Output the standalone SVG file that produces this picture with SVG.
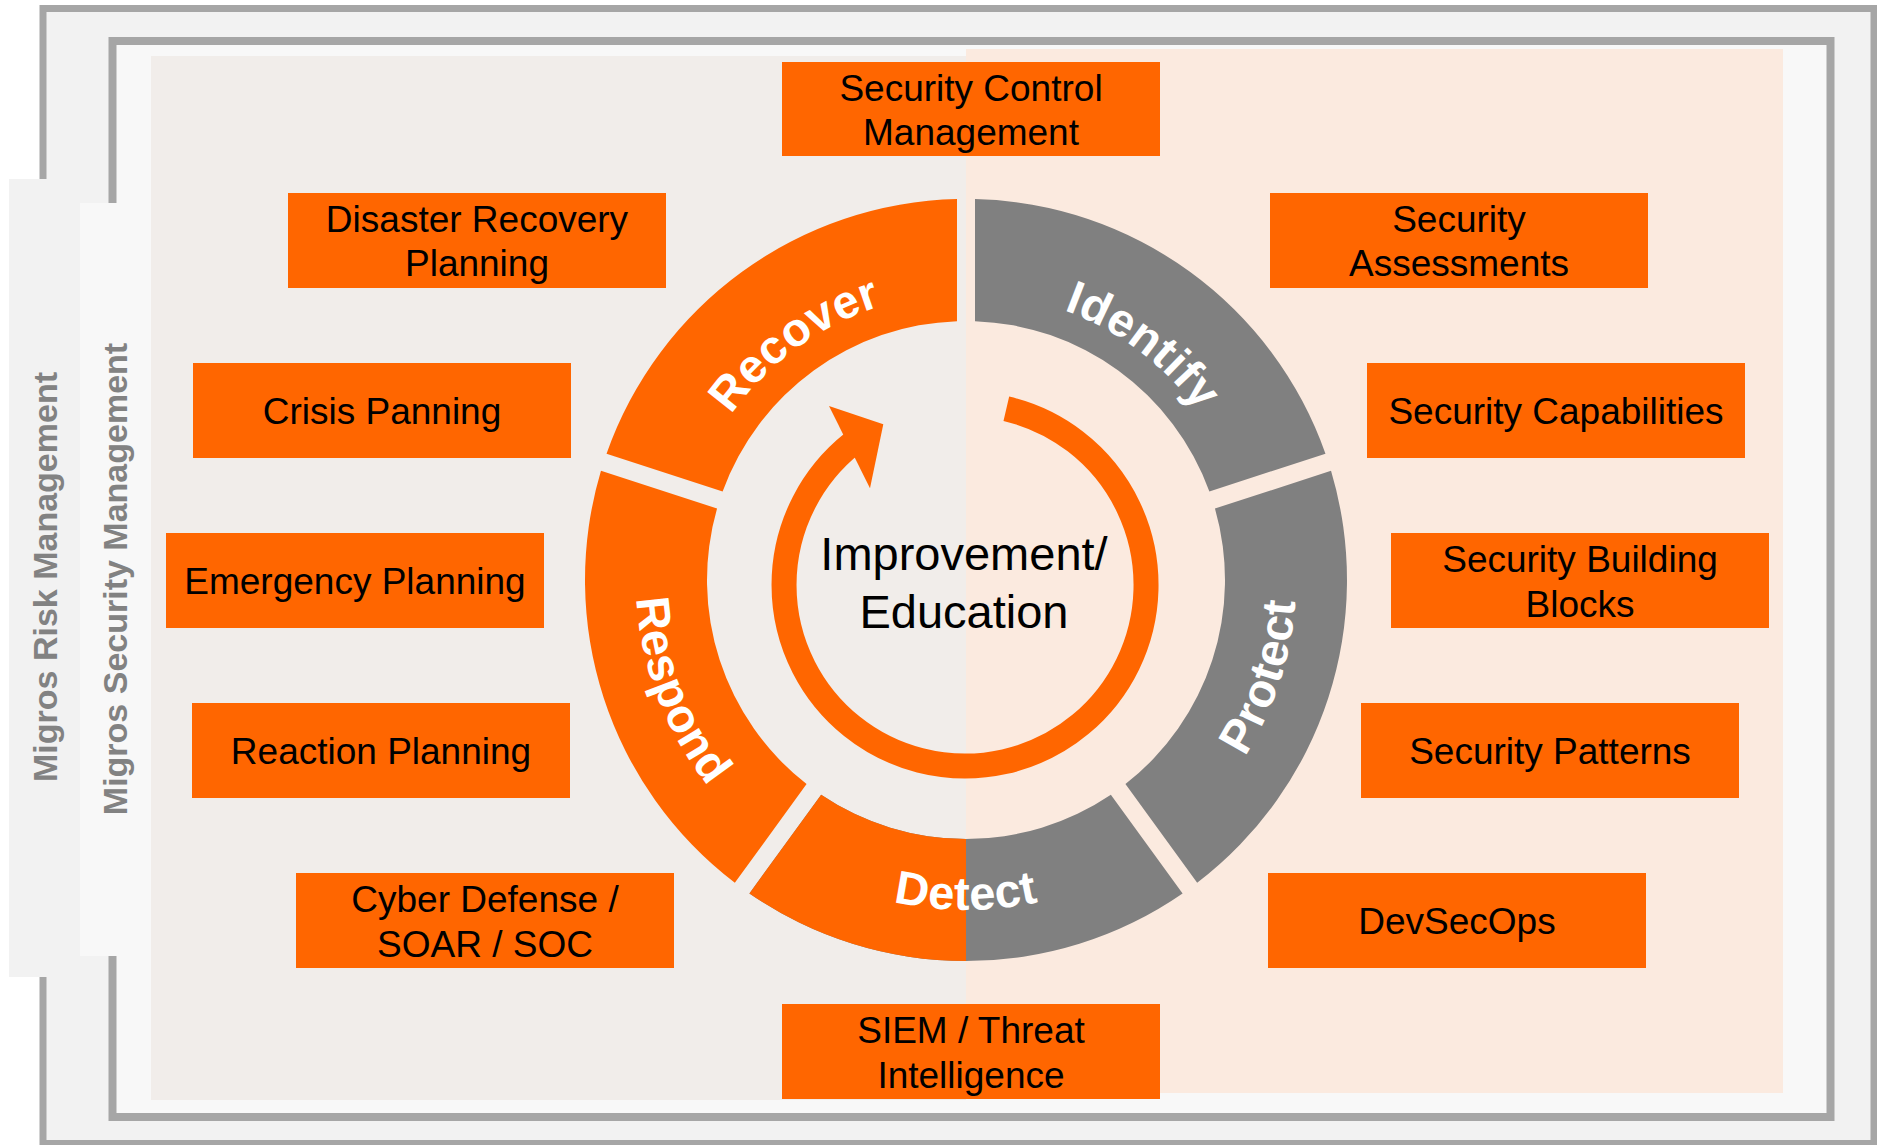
<svg xmlns="http://www.w3.org/2000/svg" width="1877" height="1145" viewBox="0 0 1877 1145">
<style>
.box{fill:#ff6600}
.bt{font-family:"Liberation Sans",Arial,sans-serif;font-size:37px;fill:#000;text-anchor:middle}
.seglbl{font-family:"Liberation Sans",Arial,sans-serif;font-size:47px;font-weight:bold;fill:#fff;letter-spacing:0.5px}
.side{font-family:"Liberation Sans",Arial,sans-serif;font-size:34px;font-weight:bold;fill:#828282;text-anchor:middle}
.center{font-family:"Liberation Sans",Arial,sans-serif;font-size:47px;fill:#000;text-anchor:middle}
</style>
<defs>
<path id="seg" d="M 9 -380.89 A 381 381 0 0 1 359.47 -126.26 L 243.39 -88.55 A 259 259 0 0 0 9 -258.84 Z"/>
<clipPath id="leftHalf"><rect x="0" y="0" width="966" height="1145"/></clipPath>
<path id="pRecover" d="M 682.53 535.1 A 287 287 0 0 1 1010.9 296.53" fill="none"/>
<path id="pIdentify" d="M 926.06 295.79 A 287 287 0 0 1 1250.21 540.06" fill="none"/>
<path id="pProtect" d="M 1131 865.79 A 330 330 0 0 0 1267.47 445.78" fill="none"/>
<path id="pDetect" d="M 732.65 813.35 A 330 330 0 0 0 1199.35 813.35" fill="none"/>
<path id="pRespond" d="M 657.92 461.74 A 330 330 0 0 0 816.18 874.03" fill="none"/>
</defs>

<g id="frames">
<rect x="43" y="8.5" width="1831" height="1135" fill="#f2f2f2" stroke="#a6a6a6" stroke-width="7"/>
<rect x="112.5" y="41" width="1718" height="1076" fill="#f8f8f8" stroke="#a6a6a6" stroke-width="8"/>
<rect x="151" y="56" width="815" height="1044" fill="#f1edea"/>
<rect x="966" y="49" width="817" height="1044" fill="#fbeadf"/>
</g>

<g id="risk-management">
<rect x="9" y="179" width="72" height="798" fill="#f2f2f2"/>
<text class="side" transform="translate(57 577) rotate(-90)">Migros Risk Management</text>
</g>
<g id="security-management">
<rect x="80" y="203" width="71" height="753" fill="#f8f8f8"/>
<text class="side" transform="translate(127 579) rotate(-90)">Migros Security Management</text>
</g>

<g id="connectors">
<path d="M 1006.33 408.78 A 181 181 0 1 1 852.3 443.4" fill="none" stroke="#ff6600" stroke-width="25"/>
<polygon points="829,406 883.3,424.3 870,488.3" fill="#ff6600"/>
</g>

<g id="identify">
<use href="#seg" transform="translate(966 580)" fill="#808080"/>
<text class="seglbl"><textPath href="#pIdentify" startOffset="50%" text-anchor="middle">Identify</textPath></text>
</g>
<g id="protect">
<use href="#seg" transform="translate(966 580) rotate(72)" fill="#808080"/>
<text class="seglbl"><textPath href="#pProtect" startOffset="50%" text-anchor="middle">Protect</textPath></text>
</g>
<g id="detect">
<use href="#seg" transform="translate(966 580) rotate(144)" fill="#808080"/>
<g clip-path="url(#leftHalf)"><use href="#seg" transform="translate(966 580) rotate(144)" fill="#ff6600"/></g>
<text class="seglbl"><textPath href="#pDetect" startOffset="50%" text-anchor="middle">Detect</textPath></text>
</g>
<g id="respond">
<use href="#seg" transform="translate(966 580) rotate(216)" fill="#ff6600"/>
<text class="seglbl"><textPath href="#pRespond" startOffset="50%" text-anchor="middle">Respond</textPath></text>
</g>
<g id="recover">
<use href="#seg" transform="translate(966 580) rotate(288)" fill="#ff6600"/>
<text class="seglbl"><textPath href="#pRecover" startOffset="50%" text-anchor="middle">Recover</textPath></text>
</g>

<g id="improvement">
<text class="center" x="964" y="570">Improvement/</text>
<text class="center" x="964" y="628">Education</text>
</g>

<g id="security-control-management">
<rect class="box" x="782" y="62" width="378" height="94"/>
<text class="bt" x="971" y="101">Security Control</text>
<text class="bt" x="971" y="145">Management</text>
</g>
<g id="disaster-recovery-planning">
<rect class="box" x="288" y="193" width="378" height="95"/>
<text class="bt" x="477" y="232">Disaster Recovery</text>
<text class="bt" x="477" y="276">Planning</text>
</g>
<g id="security-assessments">
<rect class="box" x="1270" y="193" width="378" height="95"/>
<text class="bt" x="1459" y="232">Security</text>
<text class="bt" x="1459" y="276">Assessments</text>
</g>
<g id="crisis-panning">
<rect class="box" x="193" y="363" width="378" height="95"/>
<text class="bt" x="382" y="424">Crisis Panning</text>
</g>
<g id="security-capabilities">
<rect class="box" x="1367" y="363" width="378" height="95"/>
<text class="bt" x="1556" y="424">Security Capabilities</text>
</g>
<g id="emergency-planning">
<rect class="box" x="166" y="533" width="378" height="95"/>
<text class="bt" x="355" y="594">Emergency Planning</text>
</g>
<g id="security-building-blocks">
<rect class="box" x="1391" y="533" width="378" height="95"/>
<text class="bt" x="1580" y="572">Security Building</text>
<text class="bt" x="1580" y="617">Blocks</text>
</g>
<g id="reaction-planning">
<rect class="box" x="192" y="703" width="378" height="95"/>
<text class="bt" x="381" y="764">Reaction Planning</text>
</g>
<g id="security-patterns">
<rect class="box" x="1361" y="703" width="378" height="95"/>
<text class="bt" x="1550" y="764">Security Patterns</text>
</g>
<g id="cyber-defense">
<rect class="box" x="296" y="873" width="378" height="95"/>
<text class="bt" x="485" y="912">Cyber Defense /</text>
<text class="bt" x="485" y="957">SOAR / SOC</text>
</g>
<g id="devsecops">
<rect class="box" x="1268" y="873" width="378" height="95"/>
<text class="bt" x="1457" y="934">DevSecOps</text>
</g>
<g id="siem">
<rect class="box" x="782" y="1004" width="378" height="95"/>
<text class="bt" x="971" y="1043">SIEM / Threat</text>
<text class="bt" x="971" y="1088">Intelligence</text>
</g>
</svg>
